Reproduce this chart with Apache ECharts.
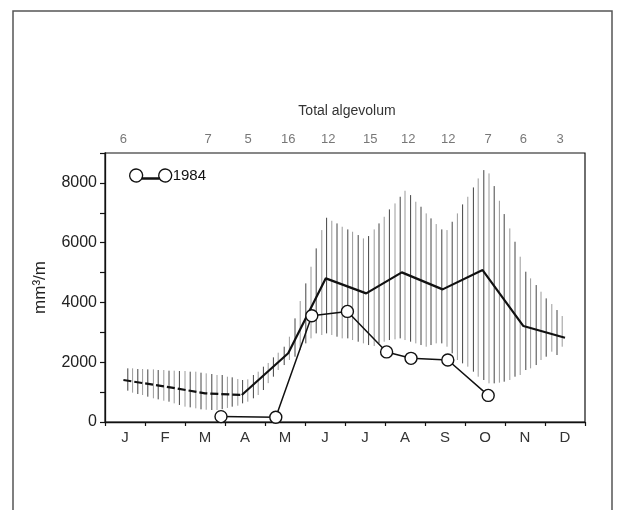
<!DOCTYPE html>
<html>
<head>
<meta charset="utf-8">
<script src="https://cdn.jsdelivr.net/npm/echarts@6/dist/echarts.min.js"></script>
<style>html,body{margin:0;padding:0;background:#fff}#c{width:622px;height:510px}</style>
</head>
<body>
<div id="c"></div>
<script>
// ---- data ----
const months = ['J','F','M','A','M','J','J','A','S','O','N','D'];
const yTicks = [0, 2000, 4000, 6000, 8000];
// positions in months (0 = start of Jan, 12 = end of Dec)
const meanDashed = [[0.46,1405],[1.67,1150],[2.5,960],[3.42,903]];
const meanSolid = [[3.42,903],[4.58,2300],[5.52,4806],[6.53,4303],[7.42,5006],[8.44,4437],[9.44,5084],[10.46,3211],[11.5,2820]];
const y1984 = [[2.9,180],[4.27,160],[5.17,3555],[6.06,3700],[7.04,2345],[7.65,2130],[8.57,2074],[9.58,890]];
const countPos = [0.46,2.58,3.58,4.58,5.58,6.63,7.58,8.58,9.58,10.46,11.38];
const counts = [6,7,5,16,12,15,12,12,7,6,3];
// range hatching: month position, low, high
const rangeX = [0.57,0.69,0.82,0.94,1.07,1.21,1.33,1.47,1.60,1.73,1.86,2.00,2.13,2.27,2.40,2.53,2.67,2.80,2.93,3.06,3.18,3.32,3.44,3.57,3.71,3.83,3.96,
  4.08,4.21,4.33,4.48,4.61,4.75,4.88,5.02,5.15,5.28,5.42,5.54,5.67,5.80,5.93,6.07,6.19,6.33,6.46,6.59,6.73,6.85,6.98,7.11,7.25,7.38,7.50,7.64,7.77,7.90,
  8.03,8.15,8.28,8.42,8.55,8.68,8.81,8.94,9.07,9.21,9.33,9.47,9.60,9.73,9.86,9.98,10.12,10.25,10.38,10.52,10.64,10.78,10.90,11.03,11.17,11.30,11.43];
const rangeLo = [1048,981,936,903,847,792,758,713,680,624,569,513,491,457,424,410,401,401,430,470,513,545,624,680,792,903,1070,
  1300,1516,1739,1906,2074,2185,2408,2631,2798,2965,2910,2965,2910,2854,2798,2798,2742,2687,2631,2575,2542,2631,2687,2742,2765,2798,2742,2687,2631,2575,
  2519,2575,2631,2631,2519,2297,2074,1962,1851,1683,1516,1405,1293,1293,1315,1349,1405,1516,1572,1739,1795,1906,2074,2185,2352,2241,2519];
const rangeHi = [1795,1795,1773,1773,1761,1761,1739,1739,1717,1717,1706,1706,1683,1683,1650,1628,1605,1572,1572,1516,1494,1438,1405,1427,1572,1683,1851,
  1975,2163,2319,2519,2854,3467,4047,4638,5195,5808,6421,6834,6733,6644,6533,6444,6366,6254,6143,6221,6444,6644,6867,7113,7313,7536,7737,7592,7369,7202,
  6979,6812,6622,6444,6421,6700,6979,7280,7536,7848,8149,8428,8317,7893,7402,6957,6477,6031,5530,5028,4805,4582,4359,4136,3946,3746,3545];

const rangeData = rangeX.map((x,i)=>[x, rangeLo[i], rangeHi[i]]);
const countData = countPos.map((x,i)=>[x, 9000, counts[i]]);

const FONT = 'Liberation Sans, Arial, sans-serif';
const chart = echarts.init(document.getElementById('c'), null, {renderer:'canvas'});
chart.setOption({
  animation:false,
  backgroundColor:'#fff',
  graphic:[
    {type:'rect', shape:{x:13,y:11,width:599,height:530}, style:{fill:'none', stroke:'#555', lineWidth:1.5}, silent:true},
    {type:'text', x:347, y:111, style:{text:'Total algevolum', textAlign:'center', textVerticalAlign:'middle', font:'14px '+FONT, fill:'#333'}}
  ],
  legend:{
    left:124, top:163, itemWidth:44, itemHeight:13, itemGap:0,
    textStyle:{fontSize:15, color:'#111', fontFamily:FONT, padding:[0,0,0,-5]},
    data:[{name:'1984', icon:'path://M0,6A6,6,0,1,0,12,0A6,6,0,1,0,0,6ZM12,5.4L30,5.4L30,6.6L12,6.6ZM30,6A6,6,0,1,0,42,0A6,6,0,1,0,30,6Z',
      itemStyle:{color:'#fff', borderColor:'#111', borderWidth:1.3}}],
  },
  grid:{left:105, right:37, top:153, bottom:88, show:true, borderColor:'#111', borderWidth:1.2, backgroundColor:'transparent'},
  xAxis:[
    {type:'category', data:months, boundaryGap:true, position:'bottom',
      axisLine:{lineStyle:{color:'#111', width:1.3}},
      axisTick:{show:true, length:4, lineStyle:{color:'#111', width:1.2}},
      axisLabel:{fontSize:15, color:'#333', fontFamily:FONT, margin:8},
      splitLine:{show:false}},
    {type:'value', min:0, max:12, show:false}
  ],
  yAxis:{type:'value', min:0, max:9000, interval:1000,
    name:'mm³/m', nameLocation:'middle', nameGap:56, nameRotate:90,
    nameTextStyle:{fontSize:17, color:'#222', fontFamily:FONT},
    axisLine:{show:true, lineStyle:{color:'#111', width:1.3}},
    axisTick:{show:true, length:5, lineStyle:{color:'#111', width:1.2}},
    axisLabel:{fontSize:16, color:'#222', fontFamily:FONT, margin:8,
      formatter:v => yTicks.indexOf(v) >= 0 ? String(v) : ''},
    splitLine:{show:false}},
  series:[
    {type:'custom', name:'range', xAxisIndex:1, data:rangeData, encode:{x:0, y:[1,2]}, silent:true, z:1,
      renderItem:(params, api)=>{
        const a = api.coord([api.value(0), api.value(1)]);
        const b = api.coord([api.value(0), api.value(2)]);
        return {type:'line', shape:{x1:a[0], y1:a[1], x2:b[0], y2:b[1]},
          style:{stroke: params.dataIndex % 2 ? '#9a9a9a' : '#444', lineWidth:1}};
      }},
    {type:'line', name:'meanDashed', xAxisIndex:1, data:meanDashed, symbol:'none', z:3,
      lineStyle:{color:'#111', width:2.2, type:[8,3]}},
    {type:'line', name:'meanSolid', xAxisIndex:1, data:meanSolid, symbol:'none', z:3,
      lineStyle:{color:'#111', width:2.2}},
    {type:'line', name:'1984', xAxisIndex:1, data:y1984, symbol:'circle', symbolSize:12, z:4,
      lineStyle:{color:'#111', width:1.5},
      itemStyle:{color:'#fff', borderColor:'#111', borderWidth:1.4}},
    {type:'scatter', name:'counts', xAxisIndex:1, data:countData, symbolSize:0, silent:true, clip:false,
      label:{show:true, position:'top', distance:7, formatter:p=>String(p.value[2]), fontSize:13, color:'#555', fontFamily:FONT}}
  ]
});
</script>
</body>
</html>
